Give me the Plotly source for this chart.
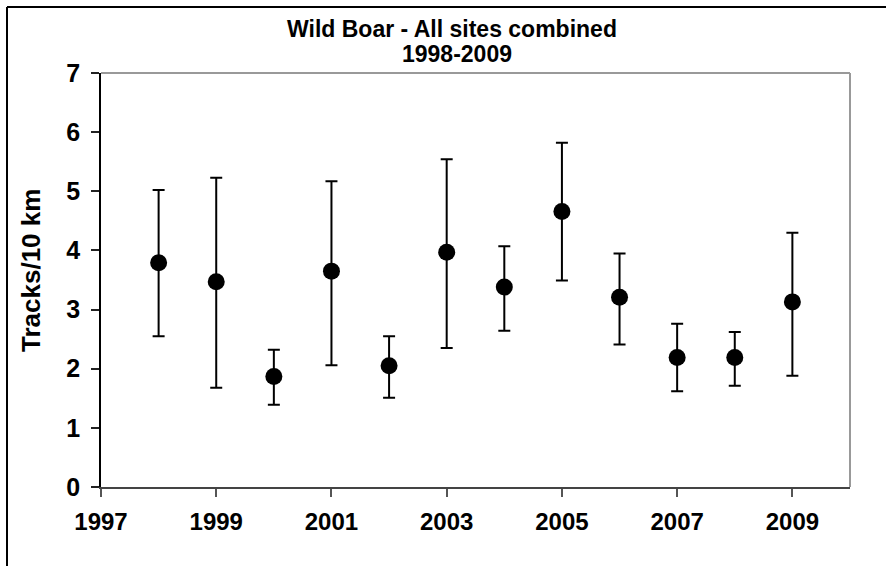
import plotly.graph_objects as go

# Wild boar track index, all sites combined
years = [1998, 1999, 2000, 2001, 2002, 2003, 2004, 2005, 2006, 2007, 2008, 2009]
mean_tracks = [3.79, 3.47, 1.87, 3.65, 2.05, 3.97, 3.38, 4.66, 3.21, 2.19, 2.19, 3.13]
upper_bound = [5.02, 5.23, 2.32, 5.17, 2.55, 5.54, 4.07, 5.82, 3.95, 2.76, 2.62, 4.30]
lower_bound = [2.55, 1.68, 1.39, 2.06, 1.51, 2.35, 2.64, 3.49, 2.41, 1.62, 1.71, 1.88]

x_ticks = [1997, 1999, 2001, 2003, 2005, 2007, 2009]
y_ticks = [0, 1, 2, 3, 4, 5, 6, 7]

err_plus = [u - m for u, m in zip(upper_bound, mean_tracks)]
err_minus = [m - l for m, l in zip(mean_tracks, lower_bound)]

FONT = "Liberation Sans"

fig = go.Figure()
fig.add_trace(go.Scatter(
    x=years, y=mean_tracks, mode="markers",
    marker=dict(color="black", size=17, symbol="circle"),
    error_y=dict(type="data", symmetric=False, array=err_plus, arrayminus=err_minus,
                 color="black", thickness=2, width=6),
    showlegend=False, hoverinfo="skip",
))

L, R, T, B = 101, 36, 73, 79
W, H = 886, 566
pw, ph = W - L - R, H - T - B


def px_x(p):
    return (p - L) / pw


def px_y(p):
    return (H - B - p) / ph


fig.update_layout(
    width=W, height=H,
    margin=dict(l=L, r=R, t=T, b=B, pad=0),
    paper_bgcolor="white", plot_bgcolor="white",
    font=dict(family=FONT, color="black"),
    xaxis=dict(
        range=[1997, 2010], tickvals=x_ticks, ticktext=[str(v) for v in x_ticks],
        ticks="outside", ticklen=8, tickwidth=1.5, tickcolor="#555555",
        showline=True, linecolor="#444444", linewidth=2,
        showgrid=False, zeroline=False,
        tickfont=dict(family=FONT, size=24, weight="bold", color="black"),
        ticklabelstandoff=4,
    ),
    yaxis=dict(
        range=[0, 7], tickvals=y_ticks,
        ticks="outside", ticklen=8, tickwidth=1.5, tickcolor="#222222",
        showline=True, linecolor="black", linewidth=1.5,
        showgrid=False, zeroline=False,
        tickfont=dict(family=FONT, size=25, weight="bold", color="black"),
        ticklabelstandoff=6,
    ),
    annotations=[
        dict(text="Wild Boar - All sites combined", xref="paper", yref="paper",
             x=px_x(452), y=px_y(29), xanchor="center", yanchor="middle",
             showarrow=False, font=dict(family=FONT, size=23, weight="bold")),
        dict(text="1998-2009", xref="paper", yref="paper",
             x=px_x(457), y=px_y(54), xanchor="center", yanchor="middle",
             showarrow=False, font=dict(family=FONT, size=23, weight="bold")),
        dict(text="Tracks/10 km", xref="paper", yref="paper",
             x=px_x(31), y=px_y(271), xanchor="center", yanchor="middle",
             textangle=-90, showarrow=False,
             font=dict(family=FONT, size=26, weight="bold")),
    ],
    shapes=[
        # plot-area frame on top and right
        dict(type="line", xref="paper", yref="paper", x0=0, x1=1, y0=1, y1=1,
             line=dict(color="#999999", width=2)),
        dict(type="line", xref="paper", yref="paper", x0=1, x1=1, y0=0, y1=1,
             line=dict(color="#999999", width=2)),
        # chart-area border
        dict(type="line", xref="paper", yref="paper", x0=px_x(7), x1=px_x(W + 10),
             y0=px_y(7), y1=px_y(7), line=dict(color="black", width=2)),
        dict(type="line", xref="paper", yref="paper", x0=px_x(7), x1=px_x(7),
             y0=px_y(7), y1=px_y(H + 10), line=dict(color="black", width=2)),
    ],
)

fig.write_html("out.html", config=dict(displayModeBar=False))
